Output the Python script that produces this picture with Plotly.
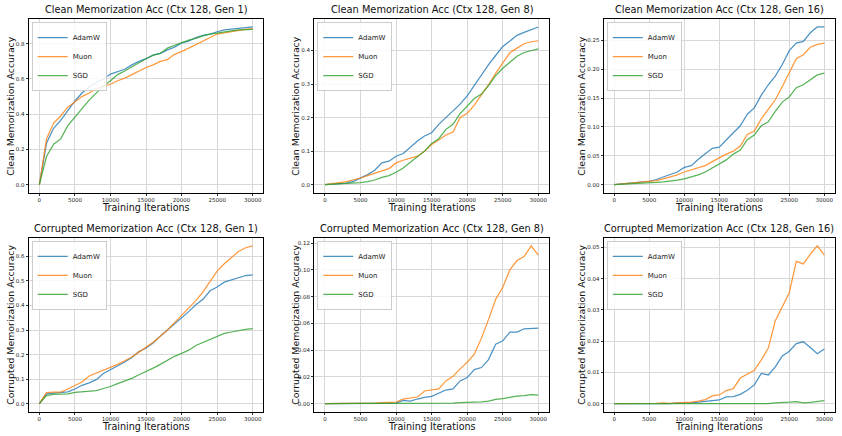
import plotly.graph_objects as go

W, H = 842, 436

iterations = [0, 1000, 2000, 3000, 4000, 5000, 6000, 7000, 8000, 9000, 10000,
              11000, 12000, 13000, 14000, 15000, 16000, 17000, 18000, 19000, 20000,
              21000, 22000, 23000, 24000, 25000, 26000, 27000, 28000, 29000, 30000]

optimizers = ["AdamW", "Muon", "SGD"]

# Clean memorization, Gen 1
clean_g1_adamw = [0, 0.235, 0.32, 0.365, 0.42, 0.475, 0.52, 0.555, 0.58, 0.60, 0.628,
                  0.64, 0.655, 0.68, 0.70, 0.715, 0.735, 0.745, 0.765, 0.78, 0.805,
                  0.815, 0.835, 0.848, 0.855, 0.868, 0.878, 0.883, 0.888, 0.894, 0.895]
clean_g1_muon = [0, 0.26, 0.35, 0.39, 0.44, 0.47, 0.50, 0.52, 0.545, 0.56, 0.57,
                 0.59, 0.605, 0.625, 0.645, 0.665, 0.68, 0.70, 0.71, 0.74, 0.755,
                 0.775, 0.795, 0.815, 0.835, 0.855, 0.862, 0.87, 0.877, 0.882, 0.886]
clean_g1_sgd = [0, 0.16, 0.23, 0.26, 0.335, 0.385, 0.435, 0.48, 0.52, 0.56, 0.59,
                0.625, 0.645, 0.67, 0.695, 0.715, 0.735, 0.745, 0.775, 0.79, 0.805,
                0.82, 0.83, 0.845, 0.855, 0.862, 0.868, 0.873, 0.878, 0.88, 0.882]

# Clean memorization, Gen 8
clean_g8_adamw = [0, 0.001, 0.003, 0.005, 0.01, 0.02, 0.03, 0.043, 0.065, 0.07, 0.085,
                  0.093, 0.112, 0.13, 0.145, 0.155, 0.18, 0.2, 0.218, 0.24, 0.265,
                  0.297, 0.328, 0.358, 0.385, 0.412, 0.428, 0.445, 0.454, 0.463, 0.47]
clean_g8_muon = [0, 0.002, 0.006, 0.009, 0.014, 0.02, 0.027, 0.035, 0.041, 0.048, 0.065,
                 0.073, 0.08, 0.085, 0.10, 0.12, 0.133, 0.148, 0.157, 0.20, 0.213,
                 0.237, 0.268, 0.298, 0.332, 0.362, 0.393, 0.407, 0.42, 0.426, 0.429]
clean_g8_sgd = [0, 0.001, 0.002, 0.003, 0.005, 0.006, 0.009, 0.014, 0.022, 0.027, 0.037,
                0.05, 0.067, 0.083, 0.10, 0.123, 0.137, 0.165, 0.18, 0.212, 0.233,
                0.257, 0.27, 0.295, 0.325, 0.347, 0.365, 0.383, 0.394, 0.4, 0.405]

# Clean memorization, Gen 16
clean_g16_adamw = [0, 0.001, 0.002, 0.003, 0.004, 0.006, 0.009, 0.013, 0.018, 0.022, 0.03,
                   0.033, 0.044, 0.053, 0.063, 0.065, 0.078, 0.09, 0.102, 0.122, 0.133,
                   0.155, 0.173, 0.188, 0.208, 0.232, 0.245, 0.248, 0.263, 0.273, 0.273]
clean_g16_muon = [0, 0.001, 0.002, 0.003, 0.004, 0.005, 0.007, 0.01, 0.013, 0.017, 0.022,
                  0.026, 0.029, 0.033, 0.04, 0.047, 0.053, 0.058, 0.067, 0.087, 0.093,
                  0.114, 0.13, 0.147, 0.17, 0.195, 0.218, 0.225, 0.238, 0.243, 0.245]
clean_g16_sgd = [0, 0.0005, 0.001, 0.0015, 0.002, 0.003, 0.004, 0.005, 0.006, 0.008, 0.01,
                 0.013, 0.017, 0.022, 0.029, 0.035, 0.043, 0.053, 0.06, 0.078, 0.086,
                 0.102, 0.109, 0.127, 0.143, 0.152, 0.168, 0.173, 0.181, 0.19, 0.193]

# Corrupted memorization, Gen 1
corr_g1_adamw = [0, 0.04, 0.043, 0.045, 0.048, 0.06, 0.075, 0.085, 0.098, 0.123, 0.138,
                 0.155, 0.17, 0.188, 0.212, 0.227, 0.247, 0.275, 0.3, 0.323, 0.35,
                 0.375, 0.403, 0.425, 0.46, 0.475, 0.495, 0.505, 0.515, 0.522, 0.525]
corr_g1_muon = [0, 0.045, 0.047, 0.047, 0.06, 0.075, 0.088, 0.113, 0.125, 0.135, 0.147,
                0.16, 0.175, 0.19, 0.21, 0.23, 0.25, 0.275, 0.30, 0.33, 0.36,
                0.39, 0.42, 0.455, 0.5, 0.54, 0.57, 0.595, 0.62, 0.635, 0.643]
corr_g1_sgd = [0, 0.033, 0.038, 0.04, 0.04, 0.046, 0.048, 0.05, 0.053, 0.062, 0.07,
               0.082, 0.093, 0.103, 0.118, 0.13, 0.145, 0.16, 0.178, 0.193, 0.205,
               0.218, 0.237, 0.25, 0.262, 0.275, 0.286, 0.292, 0.298, 0.303, 0.306]

# Corrupted memorization, Gen 8
corr_g8_adamw = [0, 0, 0, 0, 0, 0, 0, 0, 0.0002, 0.0003, 0.0005,
                 0.0025, 0.002, 0.0035, 0.0048, 0.0055, 0.008, 0.0102, 0.011, 0.017, 0.0195,
                 0.0255, 0.027, 0.033, 0.0445, 0.047, 0.0535, 0.0535, 0.056, 0.056, 0.0565]
corr_g8_muon = [0, 0, 0, 0, 0, 0, 0.0002, 0.0005, 0.0008, 0.001, 0.0012,
                0.0035, 0.004, 0.005, 0.0095, 0.0105, 0.011, 0.017, 0.0205, 0.026, 0.031,
                0.037, 0.049, 0.063, 0.078, 0.087, 0.1, 0.107, 0.11, 0.118, 0.111]
corr_g8_sgd = [0, 0, 0, 0, 0, 0, 0, 0, 0, 0, 0,
               0, 0, 0.0001, 0.0001, 0.0002, 0.0003, 0.0002, 0.0005, 0.0008, 0.0008,
               0.0013, 0.0013, 0.002, 0.0033, 0.0038, 0.005, 0.0057, 0.006, 0.0067, 0.0065]

# Corrupted memorization, Gen 16
corr_g16_adamw = [0, 0, 0, 0, 0, 0, 0, 0, 0, 0.0003, 0.0002,
                  0.0003, 0.0005, 0.0007, 0.0008, 0.0012, 0.0022, 0.0023, 0.003, 0.0043, 0.006,
                  0.0097, 0.0092, 0.0118, 0.0153, 0.0168, 0.0192, 0.0198, 0.018, 0.016, 0.0175]
corr_g16_muon = [0, 0, 0, 0, 0, 0, 0.0001, 0.0003, 0.0001, 0.0003, 0.0003,
                 0.0005, 0.0008, 0.0013, 0.0025, 0.0028, 0.0042, 0.0048, 0.0082, 0.0095, 0.0107,
                 0.014, 0.0178, 0.0265, 0.031, 0.0355, 0.0455, 0.0447, 0.0478, 0.0505, 0.0475]
corr_g16_sgd = [0, 0, 0, 0, 0, 0, 0, 0, 0, 0, 0,
                0, 0, 0, 0, 0, 0, 0, 0, 0, 0,
                0, 0, 0.0003, 0.0003, 0.0005, 0.0007, 0.0003, 0.0004, 0.0008, 0.001]

titles = ["Clean Memorization Acc (Ctx 128, Gen 1)",
          "Clean Memorization Acc (Ctx 128, Gen 8)",
          "Clean Memorization Acc (Ctx 128, Gen 16)",
          "Corrupted Memorization Acc (Ctx 128, Gen 1)",
          "Corrupted Memorization Acc (Ctx 128, Gen 8)",
          "Corrupted Memorization Acc (Ctx 128, Gen 16)"]
ytitles = ["Clean Memorization Accuracy"] * 3 + ["Corrupted Memorization Accuracy"] * 3
x_title = "Training Iterations"
panel_data = [
    [clean_g1_adamw, clean_g1_muon, clean_g1_sgd],
    [clean_g8_adamw, clean_g8_muon, clean_g8_sgd],
    [clean_g16_adamw, clean_g16_muon, clean_g16_sgd],
    [corr_g1_adamw, corr_g1_muon, corr_g1_sgd],
    [corr_g8_adamw, corr_g8_muon, corr_g8_sgd],
    [corr_g16_adamw, corr_g16_muon, corr_g16_sgd],
]
ytick_steps = [0.2, 0.1, 0.05, 0.1, 0.02, 0.01]
ytick_formats = [".1f", ".1f", ".2f", ".1f", ".2f", ".2f"]

# layout geometry (pixels)
col_px = [(28.7, 263.4), (314.3, 549.0), (603.8, 834.8)]
row_px = [(19.1, 192.6), (237.9, 411.6)]
ytitle_px = [11, 296, 582]

colors = ["rgba(31,119,180,0.8)", "rgba(255,127,14,0.8)", "rgba(44,160,44,0.8)"]
FONT = "DejaVu Sans"

fig = go.Figure()
annotations = []
layout = {}

for i in range(6):
    r, c = divmod(i, 3)
    n = i + 1
    xs = "" if n == 1 else str(n)
    x0, x1 = col_px[c]
    yt, yb = row_px[r]
    xdom = [x0 / W, x1 / W]
    ydom = [1 - yb / H, 1 - yt / H]
    legname = "legend" if n == 1 else f"legend{n}"

    for j, name in enumerate(optimizers):
        fig.add_trace(go.Scatter(
            x=iterations, y=panel_data[i][j], mode="lines", name=name,
            line=dict(color=colors[j], width=1.25),
            xaxis=f"x{xs}", yaxis=f"y{xs}", legend=legname, showlegend=True))

    allv = [v for s in panel_data[i] for v in s]
    lo, hi = min(allv), max(allv)
    pad = (hi - lo) * 0.05
    axis_common = dict(showline=True, linecolor="black", linewidth=1.3, mirror=True,
                       showgrid=True, gridcolor="#d8d8d8", gridwidth=1.1,
                       ticks="outside", ticklen=2, tickwidth=0.8, tickcolor="#333",
                       tickfont=dict(family=FONT, size=5.5, color="#222"),
                       zeroline=False)
    layout[f"xaxis{xs}"] = dict(domain=xdom, anchor=f"y{xs}", range=[-1500, 31500],
                                tick0=0, dtick=5000, tickformat="d", **axis_common)
    layout[f"yaxis{xs}"] = dict(domain=ydom, anchor=f"x{xs}", range=[lo - pad, hi + pad],
                                tick0=0, dtick=ytick_steps[i], tickformat=ytick_formats[i],
                                **axis_common)
    layout[legname] = dict(x=(x0 + 3) / W, y=1 - (yt + 3) / H, xanchor="left", yanchor="top",
                           bgcolor="rgba(255,255,255,0.85)", bordercolor="#cccccc", borderwidth=1,
                           font=dict(family=FONT, size=7, color="#222"),
                           itemwidth=30, tracegroupgap=0)

    annotations.append(dict(text=titles[i], x=(x0 + x1) / 2 / W, y=1 - yt / H,
                            xref="paper", yref="paper", xanchor="center", yanchor="bottom",
                            yshift=2, showarrow=False,
                            font=dict(family=FONT, size=9.8, color="#111")))
    annotations.append(dict(text=x_title, x=(x0 + x1) / 2 / W, y=1 - (yb + 14.5) / H,
                            xref="paper", yref="paper", xanchor="center", yanchor="middle",
                            showarrow=False, font=dict(family=FONT, size=9.6, color="#111")))
    annotations.append(dict(text=ytitles[i], x=ytitle_px[c] / W, y=1 - (yt + yb) / 2 / H,
                            xref="paper", yref="paper", xanchor="center", yanchor="middle",
                            textangle=-90, showarrow=False,
                            font=dict(family=FONT, size=9.4, color="#111")))

fig.update_layout(width=W, height=H, margin=dict(l=0, r=0, t=0, b=0),
                  paper_bgcolor="white", plot_bgcolor="white",
                  font=dict(family=FONT), annotations=annotations, **layout)

fig.write_html("out.html")
